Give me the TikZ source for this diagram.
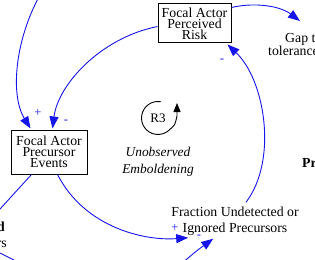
\documentclass[tikz,border=0pt]{standalone}
\usepackage{fontspec}
\setmainfont{Liberation Serif}
\usetikzlibrary{arrows.meta,calc}
\definecolor{lnk}{RGB}{20,20,235}
\begin{document}
\begin{tikzpicture}[x=1pt,y=-1pt,
  var/.style={draw,line width=1pt,inner sep=0pt,align=center,font=\fontsize{13.8}{10.8}\selectfont},
  lbl/.style={inner sep=0pt,align=center,font=\fontsize{13.8}{16.5}\selectfont},
  link/.style={draw=lnk,line width=0.9pt,-{Triangle[length=12pt,width=9pt]}},
  plink/.style={draw=lnk,line width=0.9pt},
  pol/.style={text=lnk,inner sep=0pt,font=\fontsize{12.5}{12.5}\selectfont},
  looptip/.style={line width=0.9pt,-{Triangle[length=9pt,width=7pt]}}]
\useasboundingbox (0,0) rectangle (315,259);
\clip (0,0) rectangle (315,259);
% variables
\node[var,minimum width=73pt,minimum height=39pt] (risk) at (194.5,23.5) {Focal Actor\\Perceived\\Risk};
\node[var,minimum width=76pt,minimum height=44pt] (pev) at (49,152) {Focal Actor\\Precursor\\Events};
\node[lbl] (frac) at (235,221) {Fraction Undetected or\\Ignored Precursors};
\node[lbl,align=left,anchor=north west,font=\fontsize{13.8}{12.5}\selectfont] (gap) at (268,33) {\hspace*{17pt}Gap to\\tolerance};
\node[inner sep=0pt,anchor=base west,font=\fontsize{13.8}{16}\selectfont\bfseries] (prt) at (302,167) {Pr};
\node[inner sep=0pt,anchor=base east,font=\fontsize{13.8}{16}\selectfont\bfseries] (dtx) at (5,231) {d};
\node[inner sep=0pt,anchor=base east,font=\fontsize{13.8}{16}\selectfont] (rstx) at (7,247) {rs};
% loop marker
\coordinate (lc) at (158,118);
\node[inner sep=0pt,font=\fontsize{13}{13}\selectfont] (r3) at (lc) {R3};
\draw[looptip] ($(lc)+(-80:16.5)$) arc (-80:-318:16.5) .. controls (175,125) .. (177,116) -- (177,103);
\node[lbl,font=\fontsize{13.4}{17}\selectfont\itshape] (emb) at (158,161.3) {Unobserved\\Emboldening};
% free ends
\coordinate (tl) at (40,-5);
\coordinate (bs) at (180,265);
\coordinate (lf) at (-10,220);
\coordinate (bl1) at (-10,248);
\coordinate (bl2) at (20,263);
% links
\draw[link] (tl) .. controls (15,40) and (10,95) .. ($(pev.north west)+(20,-1)$);
\draw[link] ($(risk.north west)+(0,23)$) .. controls (100,38) and (58,85) .. ($(pev.north west)+(42,-1)$);
\draw[link] ($(pev.south west)+(47,0)$) .. controls (85,228) and (145,241) .. ($(frac.south west)+(17,2)$);
\draw[link] (bs) .. controls (195,252) .. ($(frac.south west)+(42,3)$);
\draw[link] ($(frac.north)+(11,-4)$) .. controls (278,160) and (265,80) .. ($(risk.south east)+(-4,1)$);
\draw[link] ($(risk.north east)+(0,4)$) .. controls (255,2) and (280,6) .. ($(gap.north west)+(32,-12)$);
\draw[plink] ($(pev.south west)+(21,0)$) -- (lf);
\draw[plink] (bl1) -- (bl2);
% polarities
\node[pol] at (38,113) {+};
\node[pol] at (66,122) {-};
\node[pol] at (175,228) {+};
\node[pol] at (199,237) {-};
\node[pol] at (222,61) {-};
\end{tikzpicture}
\end{document}
